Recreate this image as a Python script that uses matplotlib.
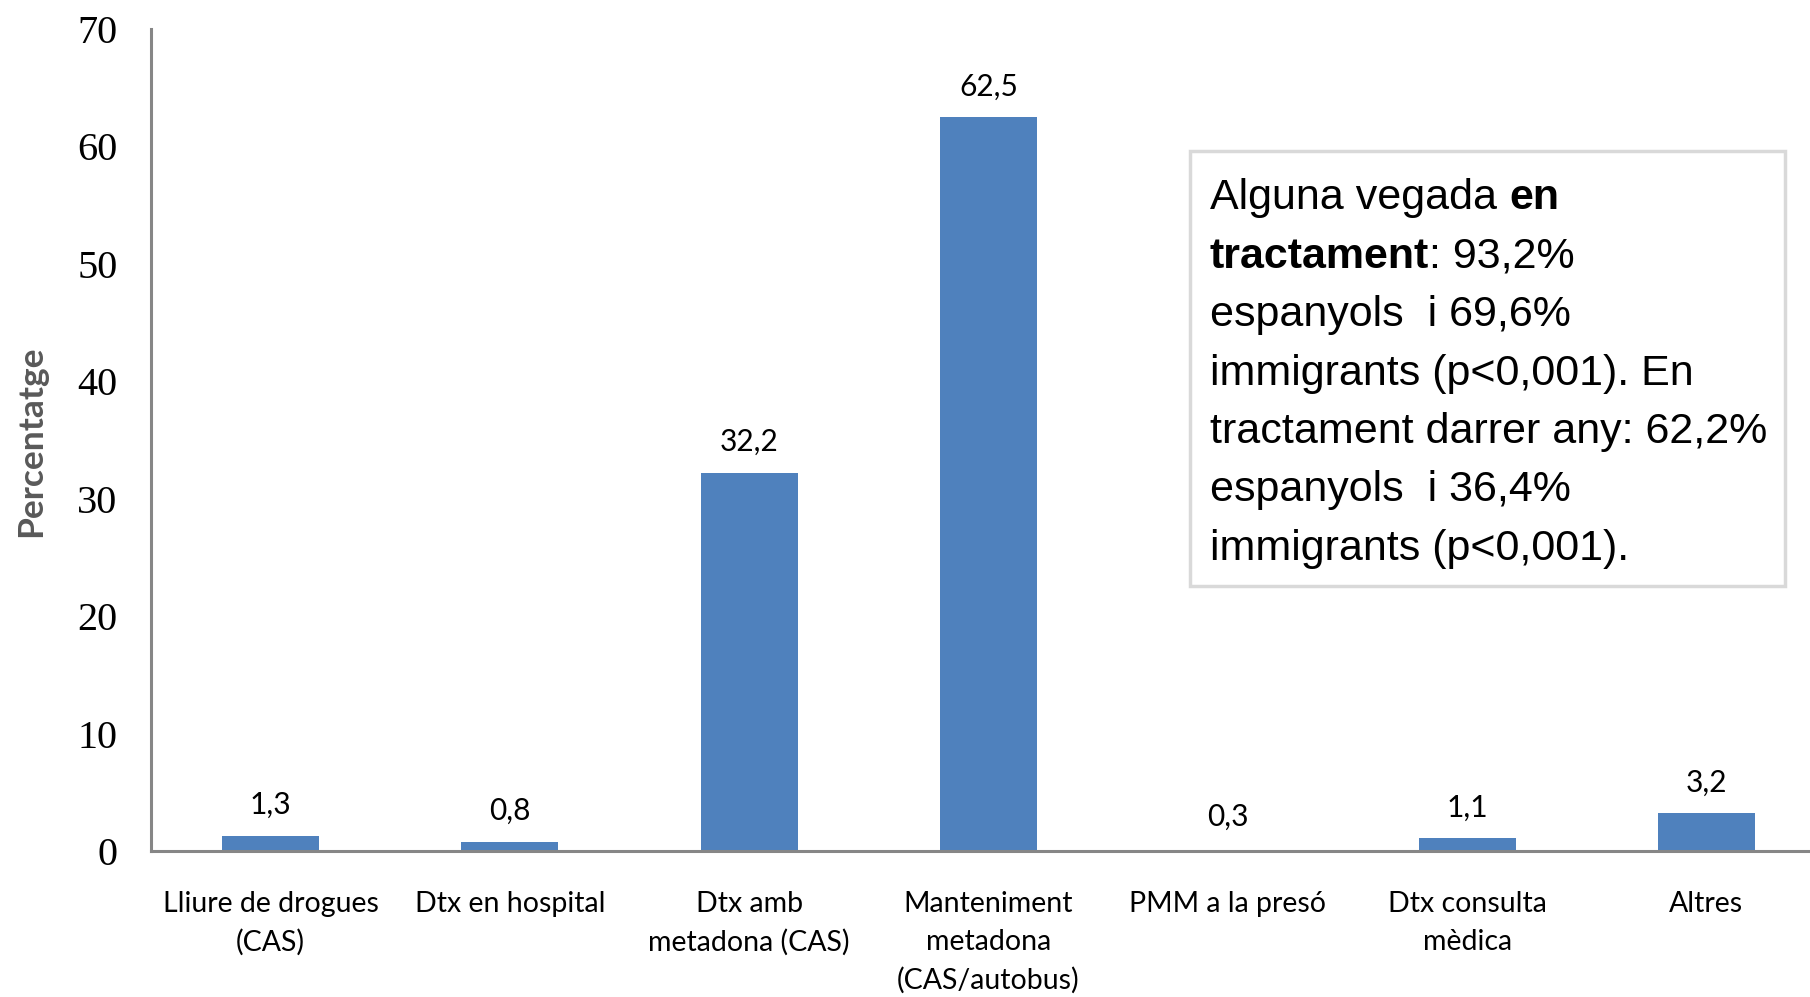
import matplotlib
matplotlib.use("Agg")
import matplotlib.pyplot as plt
from matplotlib.patches import Rectangle

categories = ["Lliure de drogues\n(CAS)", "Dtx en hospital", "Dtx amb\nmetadona (CAS)",
              "Manteniment\nmetadona\n(CAS/autobus)", "PMM a la presó",
              "Dtx consulta\nmèdica", "Altres"]
values = [1.3, 0.8, 32.2, 62.5, 0.3, 1.1, 3.2]
# the 0,3 bar is not visible in the chart
bar_heights = [1.3, 0.8, 32.2, 62.5, 0.0, 1.1, 3.2]
value_labels = ["1,3", "0,8", "32,2", "62,5", "0,3", "1,1", "3,2"]
yticks = [0, 10, 20, 30, 40, 50, 60, 70]

box_lines = [
    [("Alguna vegada ", "normal"), ("en", "bold")],
    [("tractament", "bold"), (": 93,2%", "normal")],
    [("espanyols  i 69,6%", "normal")],
    [("immigrants (p<0,001). En", "normal")],
    [("tractament darrer any: 62,2%", "normal")],
    [("espanyols  i 36,4%", "normal")],
    [("immigrants (p<0,001).", "normal")],
]

lab_font = "Lato"
bar_color = "#4F81BD"
axis_color = "#868686"

fig = plt.figure(figsize=(18.10, 9.97), dpi=100)
ax = fig.add_axes([151 / 1810, 1 - 851 / 997, 1675 / 1810, (851 - 29) / 997])

x = list(range(len(categories)))
ax.bar(x, bar_heights, width=0.405, color=bar_color, zorder=2)
ax.set_xlim(-0.5, len(categories) - 0.5)
ax.set_ylim(0, 70)

for xi, v, lab in zip(x, values, value_labels):
    ax.annotate(lab, (xi, v), xytext=(0, 12), textcoords="offset points",
                ha="center", va="bottom", fontsize=21.5, family=lab_font)

ax.set_yticks(yticks)
ax.set_yticklabels([str(t) for t in yticks], family="Liberation Serif", fontsize=29)
ax.set_xticks(x)
ax.set_xticklabels(categories, family=lab_font, fontsize=20.5, linespacing=1.55)
ax.tick_params(axis="y", length=0, pad=24)
ax.tick_params(axis="x", length=0, pad=29)

for s in ["top", "right"]:
    ax.spines[s].set_visible(False)
for s in ["left", "bottom"]:
    ax.spines[s].set_color(axis_color)
    ax.spines[s].set_linewidth(2.2)
    ax.spines[s].set_zorder(3)

fig.text(31 / 1810, 1 - 441 / 997, "Percentatge", rotation=90, ha="center", va="center",
         fontsize=25.5, fontweight="bold", color="#595959", family=lab_font)

# text box
fig.patches.append(Rectangle((1190 / 1810, 1 - 586 / 997), 595 / 1810, 435 / 997,
                             transform=fig.transFigure, fill=False,
                             edgecolor="#d9d9d9", linewidth=2.5))
x0 = 1210 / 1810
y0 = 198
for i, line in enumerate(box_lines):
    last = None
    for txt, w in line:
        if last is None:
            last = fig.text(x0, 1 - (y0 + i * 58.5) / 997, txt, ha="left", va="center",
                            fontsize=31, fontweight=w, family="Liberation Sans")
        else:
            last = ax.annotate(txt, xy=(1, 0), xycoords=last, ha="left", va="bottom",
                               fontsize=31, fontweight=w, family="Liberation Sans",
                               annotation_clip=False)

fig.savefig("out.png", dpi=100)
